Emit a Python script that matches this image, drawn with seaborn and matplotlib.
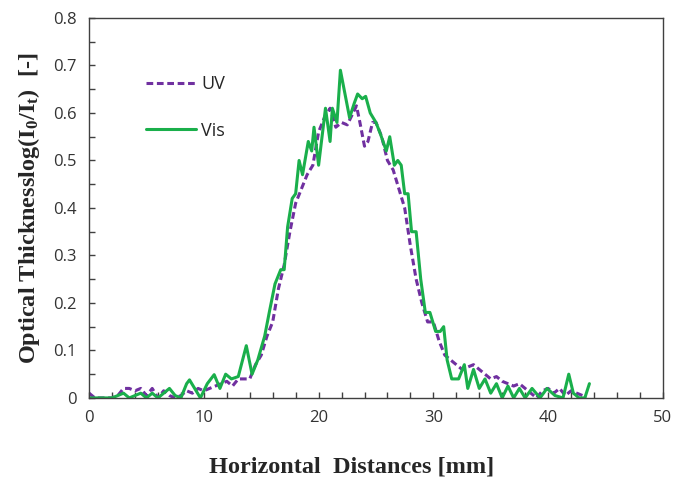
import matplotlib
matplotlib.use("Agg")
import matplotlib.pyplot as plt
import seaborn as sns
import pandas as pd
from matplotlib.ticker import MultipleLocator

# UV (dashed) readings
uv_x = [0, 0.5, 1, 1.5, 2, 2.5, 3, 3.5, 4, 4.5, 5, 5.5, 6, 6.5, 7, 7.5, 8, 8.5, 9, 9.5,
        10, 10.5, 11, 11.5, 12, 12.5, 13, 13.5, 14, 14.5, 15, 15.5, 16, 16.5, 17, 17.5,
        18, 18.5, 19, 19.5, 20, 20.5, 21, 21.5, 22, 22.5, 23, 23.3, 23.6, 24, 24.3, 24.7,
        25, 25.5, 26, 26.5, 27, 27.5, 28, 28.5, 29, 29.5, 30, 30.5, 31, 31.5, 32, 32.5,
        33, 33.5, 34, 34.5, 35, 35.5, 36, 36.5, 37, 37.5, 38, 38.5, 39, 39.5, 40, 40.5,
        41, 41.5, 42, 42.5, 43, 43.3]
uv_y = [0.01, 0, 0, 0, 0, 0.005, 0.02, 0.02, 0.015, 0.02, 0.005, 0.02, 0.0, 0.015, 0.005, 0.0,
        0.005, 0.015, 0.01, 0.02, 0.015, 0.02, 0.025, 0.03, 0.035, 0.025, 0.04, 0.04, 0.04,
        0.07, 0.09, 0.13, 0.16, 0.23, 0.28, 0.35, 0.41, 0.44, 0.47, 0.49, 0.56, 0.59, 0.61,
        0.57, 0.58, 0.575, 0.60, 0.615, 0.58, 0.53, 0.54, 0.58, 0.58, 0.55, 0.50, 0.48, 0.44,
        0.40, 0.32, 0.25, 0.20, 0.16, 0.16, 0.12, 0.09, 0.08, 0.07, 0.06, 0.065, 0.07, 0.06,
        0.05, 0.04, 0.045, 0.035, 0.03, 0.025, 0.03, 0.02, 0.01, 0.0, 0.015, 0.02, 0.01,
        0.02, 0.005, 0.015, 0.01, 0.005, 0.0]

# Vis (solid) readings
vis_x = [0, 1, 2, 2.5, 3, 3.5, 4.5, 5, 5.5, 6, 6.5, 7, 7.5, 8, 8.5, 8.75, 9.7, 10.3, 10.9,
         11.4, 11.9, 12.4, 13.0, 13.7, 14.2, 14.7, 15.3, 15.7, 16.2, 16.7, 17.0, 17.3, 17.7,
         18.0, 18.3, 18.6, 19.1, 19.4, 19.6, 20.0, 20.6, 21.0, 21.2, 21.6, 21.9, 22.3, 22.7,
         23.1, 23.4, 23.8, 24.1, 24.5, 25.0, 25.4, 25.9, 26.2, 26.6, 26.9, 27.2, 27.5, 27.8,
         28.1, 28.5, 28.9, 29.3, 29.7, 30.2, 30.6, 30.9, 31.2, 31.6, 32.2, 32.7, 33.0, 33.5,
         34.0, 34.5, 35.0, 35.5, 36.0, 36.5, 37.0, 37.5, 38.0, 38.6, 39.3, 39.9, 40.6, 41.3,
         41.8, 42.2, 42.7, 43.2, 43.6]
vis_y = [0, 0, 0, 0.005, 0.01, 0, 0.01, 0, 0.01, 0, 0.01, 0.02, 0.005, 0.0, 0.03, 0.038,
         0.0, 0.03, 0.049, 0.02, 0.05, 0.04, 0.045, 0.11, 0.05, 0.08, 0.13, 0.18, 0.24, 0.27,
         0.27, 0.36, 0.42, 0.43, 0.50, 0.47, 0.54, 0.52, 0.57, 0.49, 0.61, 0.54, 0.61, 0.58,
         0.69, 0.64, 0.59, 0.62, 0.64, 0.63, 0.635, 0.60, 0.58, 0.555, 0.52, 0.55, 0.49, 0.50,
         0.49, 0.43, 0.43, 0.35, 0.35, 0.25, 0.18, 0.18, 0.14, 0.14, 0.15, 0.08, 0.04, 0.04,
         0.07, 0.02, 0.06, 0.02, 0.04, 0.01, 0.03, 0.0, 0.025, 0.0, 0.02, 0.0, 0.02, 0.0, 0.02,
         0.005, 0.0, 0.05, 0.01, 0.0, 0.0, 0.03]

uv = pd.DataFrame({"x": uv_x, "y": uv_y})
vis = pd.DataFrame({"x": vis_x, "y": vis_y})

sns.set_style("ticks")
plt.rcParams["mathtext.fontset"] = "custom"
plt.rcParams["mathtext.rm"] = "Liberation Serif:bold"
plt.rcParams["mathtext.bf"] = "Liberation Serif:bold"
plt.rcParams["mathtext.it"] = "Liberation Serif:bold"

fig = plt.figure(figsize=(6.75, 4.8), dpi=100)
ax = fig.add_axes([0.132, 0.171, 0.85, 0.7915])

sns.lineplot(data=uv, x="x", y="y", ax=ax, color="#7030A0", lw=2.2,
             linestyle=(0, (2.2, 1.2)), label="UV", sort=False)
sns.lineplot(data=vis, x="x", y="y", ax=ax, color="#1AAF4B", lw=2.2,
             label="Vis", sort=False)

ax.set_xlim(0, 50)
ax.set_ylim(0, 0.8)
ax.xaxis.set_major_locator(MultipleLocator(10))
ax.xaxis.set_minor_locator(MultipleLocator(2))
ax.yaxis.set_major_locator(MultipleLocator(0.1))
ax.yaxis.set_minor_locator(MultipleLocator(0.05))
ax.yaxis.set_major_formatter(plt.FuncFormatter(lambda v, p: "0" if v == 0 else f"{v:.1f}"))
ax.tick_params(which="both", direction="in", length=4, width=1, colors="#404040",
               labelsize=12, labelcolor="#333333", pad=9)
for lab in ax.get_xticklabels() + ax.get_yticklabels():
    lab.set_family("Open Sans")
for s in ax.spines.values():
    s.set_color("#404040")
    s.set_linewidth(1)

ax.set_xlabel("Horizontal  Distances [mm]", family="Liberation Serif", fontweight="bold",
              fontsize=17.5)
ax.xaxis.set_label_coords(0.457, -0.155)
ax.set_ylabel(r"Optical Thicknesslog(I$_{0}$/I$_{t}$)  [-]",
              family="Liberation Serif", fontweight="bold", fontsize=17.5, labelpad=8)

leg = ax.legend(loc="center left", bbox_to_anchor=(0.07, 0.765), frameon=False,
                handlelength=2.8, handletextpad=0.3, labelspacing=1.6,
                prop={"family": "Open Sans", "size": 13})

fig.savefig("out.png", dpi=100)
